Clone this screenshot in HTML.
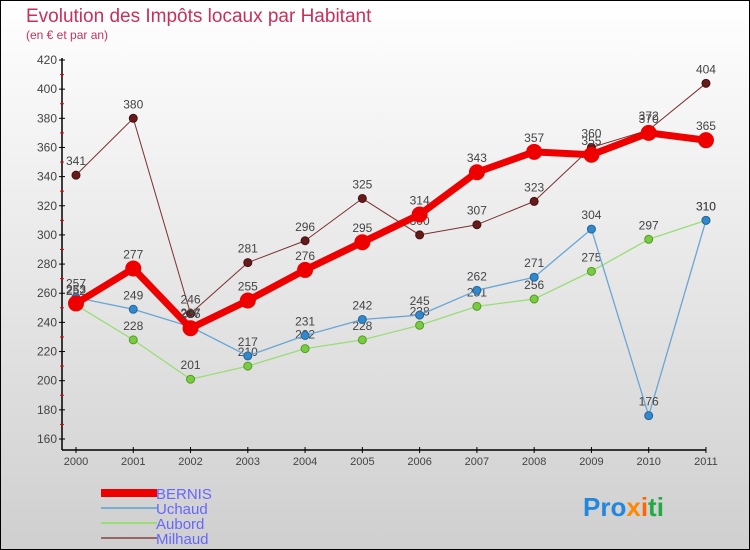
<!DOCTYPE html>
<html><head><meta charset="utf-8"><style>
body{margin:0;width:750px;height:550px;overflow:hidden;font-family:"Liberation Sans",sans-serif}
svg{display:block}
</style></head><body>
<svg id="c" width="750" height="550" xmlns="http://www.w3.org/2000/svg">
<defs><linearGradient id="bg" x1="0" y1="0" x2="0" y2="1"><stop offset="0" stop-color="#ffffff"/><stop offset="1" stop-color="#cfcfcf"/></linearGradient></defs>
<rect x="0.5" y="0.5" width="749" height="549" fill="url(#bg)" stroke="#000"/>
<text x="26" y="22" font-size="19" fill="#c8305a">Evolution des Impôts locaux par Habitant</text>
<text x="26" y="39" font-size="12" fill="#c8305a">(en € et par an)</text>
<g id="axes"></g><g id="series"></g>
<g>
<rect x="101" y="489" width="56" height="8" fill="#ee0000"/>
<text x="156" y="499" font-size="15" fill="#6666ff">BERNIS</text>
<rect x="101" y="507" width="56" height="2" fill="#7aaed0"/>
<text x="156" y="514" font-size="15" fill="#6666ff">Uchaud</text>
<rect x="101" y="522" width="56" height="2" fill="#99dd77"/>
<text x="156" y="529" font-size="15" fill="#6666ff">Aubord</text>
<rect x="101" y="537" width="56" height="2" fill="#996666"/>
<text x="156" y="544" font-size="15" fill="#6666ff">Milhaud</text>
</g>
<text x="583" y="516" font-size="26" font-weight="bold"><tspan fill="#2288dd">Pro</tspan><tspan fill="#ff8800">x</tspan><tspan fill="#ff6600">i</tspan><tspan fill="#22aa44">ti</tspan></text>
</svg>
<script>
const years=["2000","2001","2002","2003","2004","2005","2006","2007","2008","2009","2010","2011"];
const yTicks=[160,180,200,220,240,260,280,300,320,340,360,380,400,420];
const bernis=[253,277,236,255,276,295,314,343,357,355,370,365];
const uchaud=[257,249,237,217,231,242,245,262,271,304,176,310];
const aubord=[252,228,201,210,222,228,238,251,256,275,297,310];
const milhaud=[341,380,246,281,296,325,300,307,323,360,372,404];
const NS="http://www.w3.org/2000/svg";
const X=i=>76+i*57.27;
const Y=v=>439-(v-160)*(379/260);
function mk(t,a,p){const e=document.createElementNS(NS,t);for(const k in a)e.setAttribute(k,a[k]);p.appendChild(e);return e;}
const ax=document.getElementById('axes');
let e=mk('line',{x1:62,y1:58,x2:62,y2:450,stroke:'#000','stroke-width':1.5},ax);


e=mk('line',{x1:62,y1:450,x2:706,y2:450,stroke:'#000','stroke-width':1.5},ax);


yTicks.forEach((v,i)=>{
  mk('line',{x1:59,x2:65,y1:Y(v),y2:Y(v),stroke:'#000'},ax);
  if(i<yTicks.length-1)mk('line',{x1:60,x2:64,y1:Y(v+10),y2:Y(v+10),stroke:'#e00'},ax);
  const t=mk('text',{x:57,y:Y(v)+4,'font-size':12,fill:'#444','text-anchor':'end'},ax);
  t.textContent=v;
  
  
});
years.forEach((y,i)=>{
  mk('line',{x1:X(i),x2:X(i),y1:447,y2:453,stroke:'#000'},ax);
  const t=mk('text',{x:X(i),y:465,'font-size':11,fill:'#444','text-anchor':'middle'},ax);
  t.textContent=y;
  
  
});
const sg=document.getElementById('series');
function draw(vals,name,color,w,r,dot,stroke){
  const g=mk('g',{},sg);
  
  
  const pl=mk('polyline',{points:vals.map((v,i)=>X(i)+','+Y(v)).join(' '),fill:'none',stroke:color,'stroke-width':w,'stroke-linejoin':'round'},g);
  
  
  vals.forEach((v,i)=>{
    const c=mk('circle',{cx:X(i),cy:Y(v),r:r,fill:dot,stroke:stroke,'stroke-width':1},g);
    
    
    const t=mk('text',{x:X(i),y:Y(v)-10,'font-size':12,fill:'#444','text-anchor':'middle'},g);
    t.textContent=v;
    
    
  });
}
draw(milhaud,'milhaud','#7a3030',1,4,'#661a1a','#441111');
draw(aubord,'aubord','#99dd77',1.3,4,'#77cc44','#559922');
draw(uchaud,'uchaud','#6aa5d5',1.3,4,'#3388cc','#226699');
draw(bernis,'bernis','#ee0000',7,7.5,'#ee0000','#ee0000');
</script>
</body></html>
